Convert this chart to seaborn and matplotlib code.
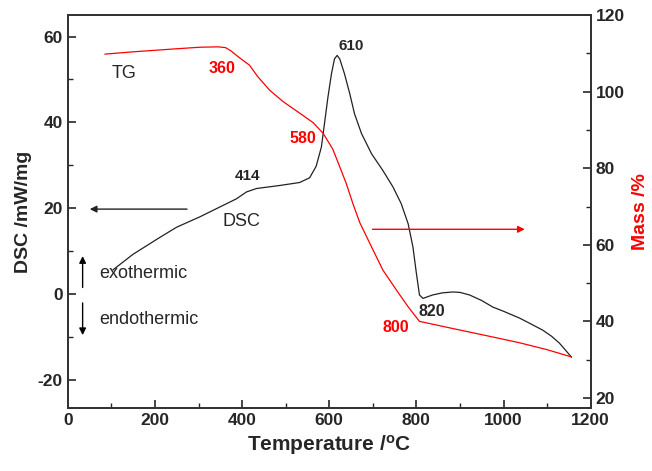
import matplotlib as mpl
mpl.use('Agg')
import matplotlib.pyplot as plt
from matplotlib.ticker import MultipleLocator
import seaborn as sns
import pandas as pd

# DSC curve (left axis)
dsc_temp = [103, 150, 211, 250, 303, 349, 387, 410, 433, 486, 532, 555, 570, 582,
            589, 597, 605, 612, 618, 624, 635, 647, 658, 674, 697, 723, 746, 765,
            781, 792, 800, 807, 815, 837, 860, 884, 900, 922, 950, 975, 1000, 1037,
            1060, 1090, 1110, 1128, 1140, 1156]
dsc_val = [5.6, 9.3, 13.2, 15.6, 18.0, 20.3, 22.2, 23.8, 24.6, 25.3, 26.0, 27.1, 29.8, 34.3,
           39.7, 45.9, 51.3, 54.8, 55.6, 54.8, 51.3, 46.7, 42.0, 37.4, 32.7, 28.8, 25.0, 21.1,
           16.4, 11.0, 4.8, -0.2, -1.0, -0.2, 0.3, 0.5, 0.4, -0.2, -1.5, -3.0, -4.0, -5.6,
           -6.8, -8.4, -9.8, -11.4, -12.8, -14.7]

# TG curve (right axis)
tg_temp = [85, 150, 200, 250, 303, 345, 362, 375, 390, 417, 436, 463, 494, 532, 563, 586,
           608, 624, 639, 655, 670, 693, 723, 754, 781, 807, 860, 922, 980, 1037, 1100, 1156]
tg_mass = [109.8, 110.4, 110.8, 111.2, 111.6, 111.7, 111.5, 110.6, 109.2, 106.9, 103.9,
           100.4, 97.4, 94.4, 91.9, 89.1, 85.0, 80.4, 76.0, 70.5, 65.8, 60.4, 53.4, 48.2,
           43.8, 40.0, 38.7, 37.2, 35.8, 34.4, 32.6, 30.7]

sns.set_style("ticks")
plt.rcParams['font.family'] = ['Liberation Sans', 'DejaVu Sans']
plt.rcParams['axes.unicode_minus'] = False

dsc = pd.DataFrame({'T': dsc_temp, 'DSC': dsc_val})
tg = pd.DataFrame({'T': tg_temp, 'Mass': tg_mass})

fig = plt.figure(figsize=(6.52, 4.71), dpi=100)
ax = fig.add_axes([0.104, 0.134, 0.802, 0.834])
sns.lineplot(x='T', y='DSC', data=dsc, ax=ax, color='#222222', linewidth=0.9, sort=False)
ax2 = ax.twinx()
sns.lineplot(x='T', y='Mass', data=tg, ax=ax2, color='red', linewidth=0.9, sort=False)

ax.set_xlim(0, 1200)
ax.set_ylim(-26.5, 65)
ax2.set_ylim(17.4, 120)
ax.xaxis.set_major_locator(MultipleLocator(200))
ax.xaxis.set_minor_locator(MultipleLocator(100))
ax.yaxis.set_major_locator(MultipleLocator(20))
ax.yaxis.set_minor_locator(MultipleLocator(10))
ax2.yaxis.set_major_locator(MultipleLocator(20))
ax2.yaxis.set_minor_locator(MultipleLocator(10))

for a in (ax, ax2):
    a.tick_params(which='major', direction='in', length=6, width=1.2, labelsize=12.5)
    a.tick_params(which='minor', direction='in', length=3.5, width=1.0)
    for s in a.spines.values():
        s.set_linewidth(1.3)
        s.set_color('#333333')
    for lab in a.get_xticklabels() + a.get_yticklabels():
        lab.set_fontweight('bold')
ax.tick_params(axis='y', which='both', right=False)
ax.tick_params(axis='x', which='both', top=False)

ax.set_xlabel('Temperature /$\\mathregular{^{o}}$C', fontsize=15, fontweight='bold')
ax.set_ylabel('DSC /mW/mg', fontsize=14, fontweight='bold')
ax2.set_ylabel('Mass /%', fontsize=14, fontweight='bold', color='red', labelpad=5)

# peak labels
ax.text(651, 57.9, '610', fontsize=11, fontweight='bold', ha='center', va='center')
ax.text(413, 27.4, '414', fontsize=11, fontweight='bold', ha='center', va='center')
ax.text(835, -4.0, '820', fontsize=11.5, fontweight='semibold', ha='center', va='center')
ax.text(353, 52.6, '360', fontsize=11.5, fontweight='bold', color='red', ha='center', va='center')
ax.text(539, 36.3, '580', fontsize=11.5, fontweight='bold', color='red', ha='center', va='center')
ax.text(752, -7.7, '800', fontsize=11.5, fontweight='bold', color='red', ha='center', va='center')
ax.text(128, 51.4, 'TG', fontsize=13, ha='center', va='center')
ax.text(399, 17.0, 'DSC', fontsize=13, ha='center', va='center')
ax.text(73, 4.7, 'exothermic', fontsize=13, ha='left', va='center')
ax.text(73, -5.8, 'endothermic', fontsize=13, ha='left', va='center')

# arrows
ax.annotate('', xy=(44, 19.8), xytext=(280, 19.8),
            arrowprops=dict(arrowstyle='-|>', color='#222222', lw=1.0, mutation_scale=10))
ax.annotate('', xy=(1055, 15.1), xytext=(693, 15.1),
            arrowprops=dict(arrowstyle='-|>', color='red', lw=1.0, mutation_scale=10))
ax.annotate('', xy=(34, 9.5), xytext=(34, 0.9),
            arrowprops=dict(arrowstyle='-|>', color='black', lw=1.0, mutation_scale=10))
ax.annotate('', xy=(34, -10.2), xytext=(34, -1.4),
            arrowprops=dict(arrowstyle='-|>', color='black', lw=1.0, mutation_scale=10))

fig.savefig('out.png', dpi=100)
